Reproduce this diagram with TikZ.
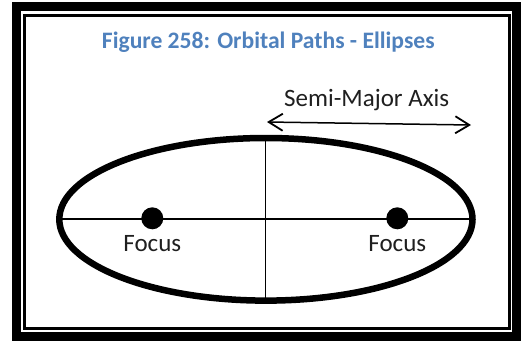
\documentclass[tikz,border=0pt]{standalone}
\usepackage{fontspec}
\setmainfont{Carlito}
\usepackage{tikz}
\usetikzlibrary{arrows.meta, positioning}
\definecolor{captionblue}{RGB}{79,129,189}
\tikzset{
    frameouter/.style={line width=9pt, draw=black},
    frameinner/.style={line width=3pt, draw=black},
    orbit/.style={line width=6.5pt, draw=black},
    axisline/.style={line width=1.5pt, draw=black},
    focusdot/.style={circle, fill=black, inner sep=0pt, minimum size=22pt},
    label/.style={anchor=base, inner sep=0pt, font=\fontsize{25}{30}\selectfont, text=black!88},
    caption/.style={anchor=base, inner sep=0pt, font=\bfseries\fontsize{23.6}{28}\selectfont, text=captionblue},
    arrow/.style={line width=1.5pt, {Straight Barb[length=14pt, width=17pt, line width=1.8pt]}-{Straight Barb[length=14pt, width=17pt, line width=1.8pt]}}
}

\begin{document}
\begin{tikzpicture}
    \begin{scope}[x=1pt, y=-1pt]
        \useasboundingbox (0,0) rectangle (521,341);
        % Frame
        \draw[frameouter] (16.5,6.5) rectangle (516.5,336);
        \draw[frameinner] (24.7,15) rectangle (509.5,328.7);

        % Title
        \node[caption] (title) at (268.3,48) {Figure 258: Orbital Paths - Ellipses};

        % Ellipse
        \draw[orbit] (265.9,219.3) ellipse [x radius=206.6, y radius=81.3];

        % Axes
        \coordinate (left) at (59.3,219);
        \coordinate (right) at (472.5,219);
        \coordinate (top) at (265.5,138);
        \coordinate (bottom) at (265.5,300.5);
        \draw[axisline] (left) -- (right);
        \draw[axisline] (top) -- (bottom);

        % Semi-major axis
        \coordinate (sma-l) at (267,122);
        \coordinate (sma-r) at (471,125);
        \draw[arrow] (sma-l) -- (sma-r);
        \node[label] (sma) at (366.7,106.5) {Semi-Major Axis};

        % Foci
        \foreach \x/\n in {152.3/l, 397.3/r} {
            \node[focusdot] (focus-\n) at (\x,218.3) {};
            \node[label] (focus-label-\n) at (\x,251.7) {Focus};
        }
    \end{scope}
\end{tikzpicture}
\end{document}
